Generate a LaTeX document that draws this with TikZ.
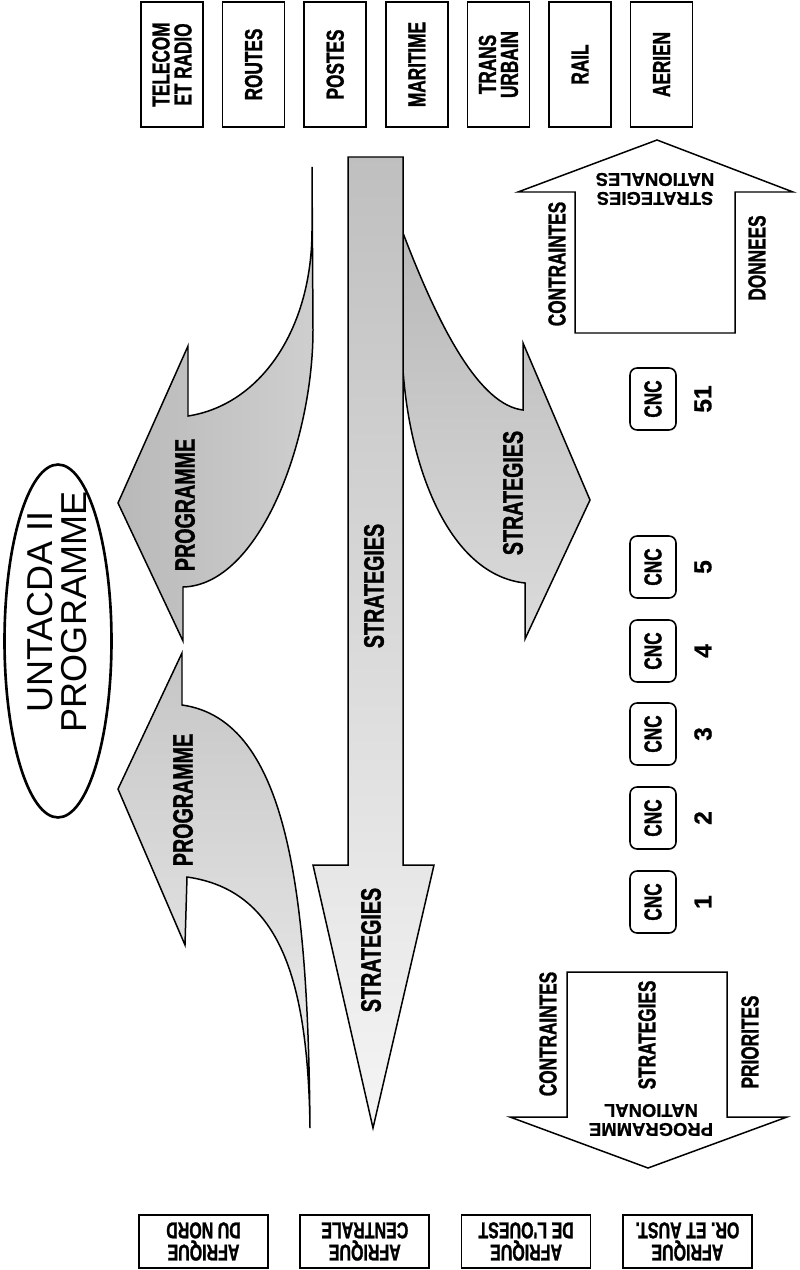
\documentclass[tikz,border=0pt]{standalone}
\usepackage{fontspec}
\setmainfont{Liberation Sans}
\newfontfamily\condbf[FakeStretch=0.7,FakeBold=1.2]{Liberation Sans Bold}
\newfontfamily\heavybf[FakeBold=0.8]{Liberation Sans Bold}
\usetikzlibrary{shapes.geometric}

\begin{document}
\begin{tikzpicture}[
  x=0.02cm,y=-0.02cm,
  every node/.style={align=center,inner sep=0pt,outer sep=0pt},
  lbl/.style={font=\condbf\fontsize{14}{12.5}\selectfont},
  biglbl/.style={font=\condbf\fontsize{16}{16}\selectfont,rotate=90},
  sidelbl/.style={lbl,rotate=90},
  numlbl/.style={font=\heavybf\fontsize{14}{14}\selectfont,rotate=90},
  fliplbl/.style={font=\heavybf\fontsize{10.5}{10.8}\selectfont,rotate=180},
  topbox/.style={lbl,draw,line width=1pt,rotate=90,minimum width=2.5cm,minimum height=1.24cm},
  basebox/.style={font=\condbf\fontsize{13}{10.5}\selectfont,draw,line width=1pt,rotate=180,minimum width=2.58cm,minimum height=1.06cm},
  cncbox/.style={lbl,draw,line width=0.9pt,rounded corners=4pt,rotate=90,minimum width=1.24cm,minimum height=0.92cm},
  band/.style={draw=black,line width=0.85pt,line join=miter},
  hollow/.style={draw=black,line width=0.85pt,fill=white}
]
\path[use as bounding box] (0,0) rectangle (799,1270);
% sectors
\foreach \nm/\txt [count=\i from 0] in {telecom/{TELECOM\\ET RADIO},routes/ROUTES,postes/POSTES,maritime/MARITIME,transurb/{TRANS\\URBAIN},rail/RAIL,aerien/AERIEN}
  \node[topbox] (\nm) at (172+81.6*\i,64.5) {\txt};
% regions
\foreach \nm/\txt [count=\i from 0] in {nord/{AFRIQUE\\DU NORD},centre/{AFRIQUE\\CENTRALE},ouest/{AFRIQUE\\DE L'OUEST},orient/{AFRIQUE\\OR. ET AUST.}}
  \node[basebox] (\nm) at (203.5+161.3*\i,1241.5) {\txt};
% title
\node[draw,ellipse,line width=1.5pt,minimum width=2.14cm,minimum height=7.06cm] (title) at (58,641) {};
\node[font=\fontsize{20.5}{19}\selectfont,rotate=90] (titletxt) at (57,612) {UNTACDA II\\PROGRAMME};
% shaded arrows
\shadedraw[band,top color=gray!55,bottom color=gray!28]
  (403,233) .. controls (440,330) and (480,405) .. (523,410)
  -- (523,343) -- (590,500) -- (525,639) -- (525,583)
  .. controls (450,575) and (410,470) .. (403,370) -- cycle;
\shadedraw[band,top color=gray!50,bottom color=gray!8]
  (348,157) -- (403,157) -- (403,865) -- (434,865) -- (373,1128) -- (313,865) -- (348,865) -- cycle;
\shadedraw[band,left color=gray!55,right color=gray!38]
  (312,167) -- (312,230) .. controls (312,330) and (260,405) .. (188,416)
  -- (188,346) -- (118,503) -- (183,641) -- (183,587)
  .. controls (260,585) and (313,440) .. (313,330) -- cycle;
\shadedraw[band,top color=gray!45,bottom color=gray!12]
  (310,1128) .. controls (308,900) and (290,720) .. (182,705)
  -- (182,653) -- (118,789) -- (185,945) -- (187,877)
  .. controls (280,890) and (308,980) .. (310,1128) -- cycle;
\node[biglbl] (progup) at (185,505) {PROGRAMME};
\node[biglbl] (proglow) at (183,800) {PROGRAMME};
\node[biglbl] (stratshaft) at (374,586) {STRATEGIES};
\node[biglbl] (strathead) at (371,950) {STRATEGIES};
\node[biglbl] (stratright) at (513,493) {STRATEGIES};
% national arrows
\draw[hollow] (575,333) -- (575,192) -- (518,192) -- (657,140) -- (793,192) -- (735,192) -- (735,333) -- cycle;
\draw[hollow] (567,972) -- (727,972) -- (727,1117) -- (787,1117) -- (648,1168) -- (510,1117) -- (567,1117) -- cycle;
\node[sidelbl] (contrup) at (557,264) {CONTRAINTES};
\node[sidelbl] (donnees) at (757,258) {DONNEES};
\node[fliplbl] (stratnat) at (655,189) {STRATEGIES\\NATIONALES};
\node[sidelbl] (contrlow) at (548,1034) {CONTRAINTES};
\node[sidelbl] (stratlow) at (647,1035) {STRATEGIES};
\node[sidelbl] (priorites) at (750,1042) {PRIORITES};
\node[fliplbl] (prognat) at (651,1120) {PROGRAMME\\NATIONAL};
% committees
\foreach \n/\yy in {1/902,2/818,3/734,4/651,5/567,51/399}{
  \node[cncbox] (cnc\n) at (653,\yy) {CNC};
  \node[numlbl] (num\n) at (703,\yy) {\n};
}
\end{tikzpicture}
\end{document}
